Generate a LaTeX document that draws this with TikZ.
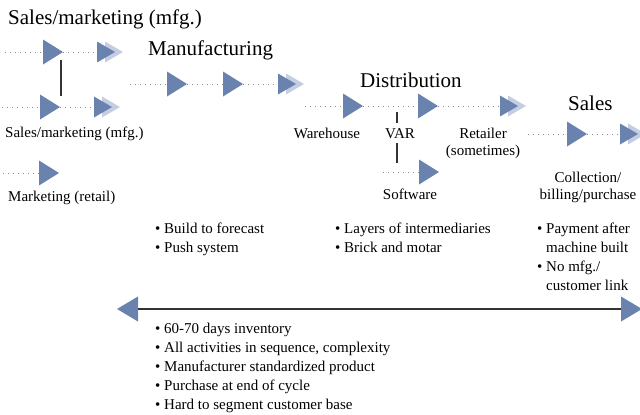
\documentclass[tikz,border=0pt]{standalone}
\usepackage{fontspec}
\setmainfont{Liberation Serif}
\definecolor{tridark}{HTML}{6A83AE}
\definecolor{trilight}{HTML}{C5CDE3}
\definecolor{dotgray}{HTML}{8A8A8A}
\definecolor{rulegray}{HTML}{333333}
\tikzset{
  x=1pt, y=-1pt,
  % single solid step marker
  stepmark/.pic={
    \fill[tridark] (0,-12.5) -- (20,0) -- (0,12.5) -- cycle;
    \coordinate (-in) at (0,0);
    \coordinate (-out) at (20,0);
  },
  % doubled marker at the end of a row
  endmark/.pic={
    \fill[trilight] (8,-10.5) -- (26,0) -- (8,10.5) -- cycle;
    \fill[tridark] (0,-10.5) -- (18,0) -- (0,10.5) -- cycle;
    \coordinate (-in) at (0,0);
  },
  flow/.style={draw=dotgray, line width=0.8pt, dash pattern=on 1pt off 4pt},
  link/.style={draw=rulegray, line width=1.4pt},
  title/.style={font=\fontsize{21}{24}\selectfont, inner sep=0pt, anchor=base west},
  lbl/.style={font=\fontsize{15}{18}\selectfont, inner sep=0pt, anchor=base},
  item/.style={font=\fontsize{15}{18}\selectfont, inner sep=0pt, anchor=base west},
}
\begin{document}
\begin{tikzpicture}
\useasboundingbox (0,0) rectangle (640,415);

% ---- Sales/marketing (manufacturer) ----
\node[title] (tSM) at (8,24) {Sales/marketing (mfg.)};
\coordinate (s1) at (5,52);
\pic (a1) at (43,52) {stepmark};
\pic (a2) at (97,52) {endmark};
\draw[flow] (s1) -- (a1-in);
\draw[flow] (a1-out) -- (a2-in);

\coordinate (s2) at (2,107);
\pic (b1) at (40,107) {stepmark};
\pic (b2) at (94,107) {endmark};
\draw[flow] (s2) -- (b1-in);
\draw[flow] (b1-out) -- (b2-in);
\coordinate (v1) at (61,60);
\coordinate (v2) at (61,96);
\draw[link] (v1) -- (v2);
\node[lbl, anchor=base west] (lSM) at (5,137) {Sales/marketing (mfg.)};

\coordinate (s3) at (3,173);
\pic (c1) at (39,173) {stepmark};
\draw[flow] (s3) -- (c1-in);
\node[lbl, anchor=base west] (lMR) at (8,201) {Marketing (retail)};

% ---- Manufacturing ----
\node[title] (tM) at (148,55) {Manufacturing};
\coordinate (s4) at (130,84);
\pic (m1) at (167,84) {stepmark};
\pic (m2) at (223,84) {stepmark};
\pic (m3) at (278,84) {endmark};
\draw[flow] (s4) -- (m1-in);
\draw[flow] (m1-out) -- (m2-in);
\draw[flow] (m2-out) -- (m3-in);

% ---- Distribution ----
\node[title] (tD) at (360,87) {Distribution};
\coordinate (s5) at (305,106);
\pic (d1) at (343,106) {stepmark};
\pic (d2) at (418,106) {stepmark};
\pic (d3) at (500,106) {endmark};
\draw[flow] (s5) -- (d1-in);
\draw[flow] (d1-out) -- (d2-in);
\draw[flow] (d2-out) -- (d3-in);
\node[lbl] (lW) at (327,138) {Warehouse};
\node[lbl] (lV) at (400,138) {VAR};
\node[lbl] (lR) at (483,138) {Retailer};
\node[lbl] (lRs) at (483,155) {(sometimes)};
\coordinate (w1) at (397,112);
\coordinate (w2) at (397,123);
\coordinate (w3) at (397,143);
\coordinate (w4) at (397,163);
\draw[link] (w1) -- (w2);
\draw[link] (w3) -- (w4);
\coordinate (s6) at (383,172);
\pic (e1) at (419,172) {stepmark};
\draw[flow] (s6) -- (e1-in);
\node[lbl] (lS) at (410,199) {Software};

% ---- Sales ----
\node[title] (tS) at (568,110) {Sales};
\coordinate (s7) at (528,134);
\pic (f1) at (567,134) {stepmark};
\pic (f2) at (620,134) {endmark};
\draw[flow] (s7) -- (f1-in);
\draw[flow] (f1-out) -- (f2-in);
\node[lbl] (lC1) at (588,182) {Collection/};
\node[lbl] (lC2) at (588,199) {billing/purchase};

% ---- stage notes ----
\node[item] (n1) at (155,233) {• Build to forecast};
\node[item] (n2) at (155,252) {• Push system};
\node[item] (n3) at (335,233) {• Layers of intermediaries};
\node[item] (n4) at (335,252) {• Brick and motar};
\node[item] (n5) at (537,233) {• Payment after};
\node[item] (n6) at (546,252) {machine built};
\node[item] (n7) at (537,271) {• No mfg./};
\node[item] (n8) at (546,290) {customer link};

% ---- whole-chain span ----
\coordinate (L) at (138,309);
\coordinate (R) at (621,309);
\draw[link] (L) -- (R);
\fill[tridark] (L) ++(0,-12.5) -- ++(-21,12.5) -- ++(21,12.5) -- cycle;
\fill[tridark] (R) ++(0,-12.5) -- ++(21,12.5) -- ++(-21,12.5) -- cycle;

\node[item] (g1) at (155,333) {• 60-70 days inventory};
\node[item] (g2) at (155,352) {• All activities in sequence, complexity};
\node[item] (g3) at (155,371) {• Manufacturer standardized product};
\node[item] (g4) at (155,390) {• Purchase at end of cycle};
\node[item] (g5) at (155,409) {• Hard to segment customer base};
\end{tikzpicture}
\end{document}
